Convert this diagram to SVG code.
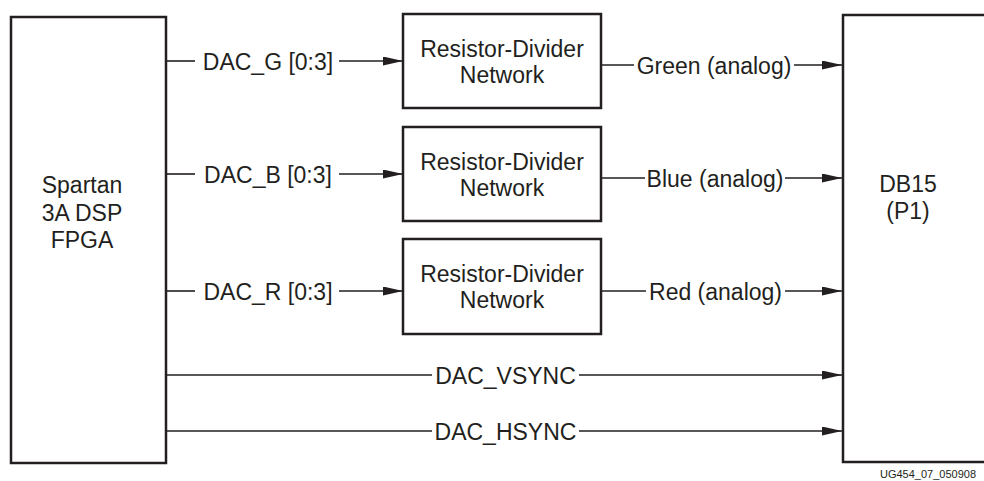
<svg xmlns="http://www.w3.org/2000/svg" width="984" height="481" viewBox="0 0 984 481">
<defs>
<style>
.box{fill:#fff;stroke:#231f20;stroke-width:2.5}
.wire{stroke:#231f20;stroke-width:1.6;fill:none}
.t{font-family:"Liberation Sans",Arial,sans-serif;font-size:23px;fill:#231f20;text-anchor:middle}
.small{font-family:"Liberation Sans",Arial,sans-serif;font-size:11px;fill:#231f20}
</style>
<marker id="arr" markerUnits="userSpaceOnUse" markerWidth="21" markerHeight="9" refX="20" refY="4.5" orient="auto">
<path d="M0,0 L20,4.5 L0,9 z" fill="#231f20"/>
</marker>
</defs>
<rect width="984" height="481" fill="#fff"/>

<g id="fpga">
<rect class="box" x="11" y="17" width="155" height="446"/>
<text class="t" x="82" y="193">Spartan</text>
<text class="t" x="82" y="221">3A DSP</text>
<text class="t" x="82" y="248">FPGA</text>
</g>

<g id="rdn-green">
<rect class="box" x="403" y="14" width="198" height="94"/>
<text class="t" x="502" y="57">Resistor-Divider</text>
<text class="t" x="502" y="83">Network</text>
</g>

<g id="rdn-blue">
<rect class="box" x="403" y="127" width="198" height="94"/>
<text class="t" x="502" y="170">Resistor-Divider</text>
<text class="t" x="502" y="196">Network</text>
</g>

<g id="rdn-red">
<rect class="box" x="403" y="239" width="198" height="95"/>
<text class="t" x="502" y="282">Resistor-Divider</text>
<text class="t" x="502" y="308">Network</text>
</g>

<g id="db15">
<rect class="box" x="843" y="15" width="200" height="447"/>
<text class="t" x="908" y="192">DB15</text>
<text class="t" x="908" y="219">(P1)</text>
</g>

<g id="connectors">
<line class="wire" x1="166" y1="61" x2="195" y2="61"/>
<line class="wire" x1="339" y1="61" x2="403" y2="61" marker-end="url(#arr)"/>
<text class="t" x="268" y="69.5">DAC_G [0:3]</text>

<line class="wire" x1="166" y1="174" x2="195" y2="174"/>
<line class="wire" x1="339" y1="174" x2="403" y2="174" marker-end="url(#arr)"/>
<text class="t" x="268" y="182.5">DAC_B [0:3]</text>

<line class="wire" x1="166" y1="291" x2="195" y2="291"/>
<line class="wire" x1="339" y1="291" x2="403" y2="291" marker-end="url(#arr)"/>
<text class="t" x="268" y="299.5">DAC_R [0:3]</text>

<line class="wire" x1="601" y1="65" x2="634" y2="65"/>
<line class="wire" x1="794" y1="65" x2="842" y2="65" marker-end="url(#arr)"/>
<text class="t" x="714" y="73.5">Green (analog)</text>

<line class="wire" x1="601" y1="178" x2="645" y2="178"/>
<line class="wire" x1="785" y1="178" x2="842" y2="178" marker-end="url(#arr)"/>
<text class="t" x="715" y="186.5">Blue (analog)</text>

<line class="wire" x1="601" y1="291" x2="646" y2="291"/>
<line class="wire" x1="785" y1="291" x2="842" y2="291" marker-end="url(#arr)"/>
<text class="t" x="715.5" y="299.5">Red (analog)</text>

<line class="wire" x1="166" y1="375" x2="432" y2="375"/>
<line class="wire" x1="579" y1="375" x2="842" y2="375" marker-end="url(#arr)"/>
<text class="t" x="505.5" y="383.5">DAC_VSYNC</text>

<line class="wire" x1="166" y1="431" x2="432" y2="431"/>
<line class="wire" x1="579" y1="431" x2="842" y2="431" marker-end="url(#arr)"/>
<text class="t" x="505.5" y="439.5">DAC_HSYNC</text>
</g>

<text class="small" x="880" y="478">UG454_07_050908</text>
</svg>
